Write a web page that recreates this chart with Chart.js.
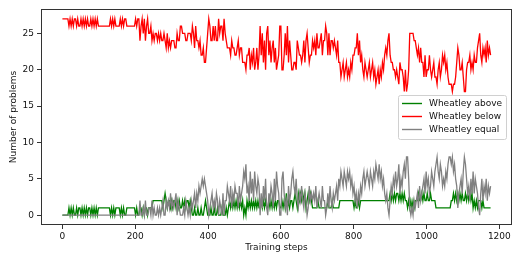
<!DOCTYPE html>
<html>
<head>
<meta charset="utf-8">
<script src="https://cdn.jsdelivr.net/npm/chart.js@4"></script>
<style>
  html, body { margin: 0; padding: 0; background: #fff; }
  #wrap { width: 523px; height: 262px; }
</style>
</head>
<body>
<div id="wrap"><canvas id="c" width="523" height="262"></canvas></div>
<script>
// ---- data (one value every 3 training steps) ----
const STEP = 3;
const seriesNames = ["Wheatley above", "Wheatley below", "Wheatley equal"];
const seriesColors = ["#008000", "#ff0000", "#808080"];
const xTicks = [0, 200, 400, 600, 800, 1000, 1200];
const yTicks = [0, 5, 10, 15, 20, 25];

const above = [
  0,0,0,0,0,0,1,0,1,0,
  1,0,0,1,0,1,1,0,1,0,
  1,0,1,0,1,1,0,1,0,1,
  0,1,0,1,1,1,1,1,1,1,
  1,1,1,1,0,1,0,1,0,1,
  1,1,1,0,1,0,1,0,0,1,
  1,1,1,1,1,1,1,0,1,0,
  0,1,1,0,1,0,1,1,0,1,
  1,1,1,2,2,2,2,2,2,2,
  2,2,1,2,3,2,1,2,2,1,
  2,1,2,2,1,2,1,2,1,1,
  2,1,2,1,2,2,1,2,1,0,
  0,1,0,0,1,0,0,1,0,0,
  1,2,1,0,0,0,1,0,0,1,
  0,0,1,0,0,0,1,0,0,0,
  1,0,1,2,1,2,1,2,1,2,
  1,2,1,2,1,2,0,1,0,2,
  1,2,1,2,1,2,1,2,1,2,
  1,1,2,1,2,1,2,1,1,2,
  1,2,1,2,1,2,1,2,2,1,
  1,2,1,2,1,3,1,2,1,2,
  2,1,2,3,2,1,3,2,3,2,
  3,2,3,1,2,3,2,3,2,1,
  1,1,1,1,2,1,1,1,1,1,
  1,1,1,2,1,1,1,2,1,1,
  1,1,1,1,2,2,2,2,2,2,
  2,2,2,2,2,2,2,1,2,1,
  1,2,1,2,2,2,2,2,2,2,
  2,2,2,2,2,2,2,2,2,2,
  2,2,2,2,2,2,2,2,2,2,
  3,2,3,2,3,2,3,3,2,3,
  2,3,2,3,2,2,1,2,1,2,
  1,2,1,2,2,2,3,2,2,3,
  2,3,2,2,3,2,2,3,2,2,
  2,2,1,1,1,1,1,1,1,1,
  1,1,1,1,1,1,2,2,3,2,
  3,2,3,2,3,2,3,2,2,3,
  2,3,2,3,2,3,1,2,1,2,
  1,2,2,2,1,2,1,1,1,1,
  1,1,1
];
const below = [
  27,27,27,27,27,27,26,27,26,27,
  26,27,27,26,27,26,26,27,26,27,
  26,27,26,27,26,26,27,26,27,26,
  27,26,27,26,26,26,26,26,26,26,
  26,26,26,26,27,26,27,26,27,26,
  26,26,26,27,26,27,26,27,27,26,
  26,26,26,26,26,26,26,27,26,27,
  27,24,26,27,25,27,24,26,27,25,
  25,26,24,25,24,25,25,24,25,24,
  25,24,24,25,24,23,25,23,24,23,
  24,24,24,23,23,25,24,24,26,26,
  25,25,25,24,24,25,25,25,24,26,
  25,23,26,24,24,23,24,22,22,23,
  21,21,23,25,27,26,24,24,26,24,
  26,24,24,27,25,26,26,24,27,25,
  24,23,23,23,22,24,23,23,22,22,
  23,24,22,23,23,21,21,21,20,22,
  22,23,20,22,21,23,20,21,23,20,
  22,26,22,25,21,24,20,25,26,22,
  24,21,23,24,21,23,20,21,22,26,
  26,20,20,22,25,22,26,21,24,22,
  20,20,21,21,20,24,23,22,22,21,
  22,24,21,24,25,23,21,22,22,24,
  23,24,22,25,23,23,24,25,22,24,
  24,26,25,22,25,22,24,24,23,24,
  23,22,24,21,21,19,20,21,19,20,
  21,19,20,19,21,20,22,22,23,23,
  25,22,24,21,22,20,19,21,20,19,
  20,21,19,20,21,19,20,18,19,20,
  18,20,19,21,20,22,23,22,24,25,
  22,21,21,20,20,19,20,19,18,21,
  20,20,19,17,20,17,18,20,25,25,
  25,25,24,24,23,22,23,21,23,21,
  21,19,22,19,20,20,22,20,19,20,
  21,19,19,18,20,21,19,20,22,21,
  22,20,21,19,18,18,18,17,18,18,
  19,21,23,22,20,20,21,19,17,17,
  20,21,21,22,20,21,20,22,21,21,
  23,24,25,22,21,23,22,23,21,24,
  22,23,22
];
const equal = [
  0,0,0,0,0,0,0,0,0,0,
  0,0,0,0,0,0,0,0,0,0,
  0,0,0,0,0,0,0,0,0,0,
  0,0,0,0,0,0,0,0,0,0,
  0,0,0,0,0,0,0,0,0,0,
  0,0,0,0,0,0,0,0,0,0,
  0,0,0,0,0,0,0,0,0,0,
  0,2,0,0,1,0,2,0,0,1,
  1,0,2,0,1,0,0,1,0,1,
  0,1,2,0,0,2,1,2,1,3,
  1,2,1,2,3,0,2,1,0,0,
  0,1,0,2,1,0,1,0,2,1,
  2,3,1,3,2,4,3,4,5,4,
  5,4,3,2,0,1,2,3,1,2,
  1,3,2,0,2,1,0,3,0,2,
  2,4,3,2,4,1,3,2,4,3,
  3,1,4,2,3,4,6,5,7,3,
  4,2,6,3,5,2,6,4,3,5,
  4,0,3,1,4,2,5,1,0,3,
  2,4,3,1,5,2,6,4,3,0,
  0,5,6,3,1,2,0,4,2,3,
  5,6,4,3,5,2,1,3,2,4,
  2,1,3,2,0,1,4,2,3,2,
  3,2,4,1,2,3,2,1,4,2,
  2,0,1,3,1,4,2,1,3,2,
  3,4,2,5,4,6,5,4,6,5,
  4,6,5,6,4,5,3,4,2,3,
  1,3,2,4,3,5,6,4,5,6,
  5,4,6,5,4,6,5,7,6,5,
  7,5,6,4,5,3,2,3,1,0,
  2,4,3,5,4,6,4,5,7,3,
  5,4,6,7,5,8,8,5,1,0,
  1,0,2,1,2,3,1,4,2,3,
  4,5,3,6,4,5,3,4,6,5,
  4,6,7,8,6,5,7,6,4,5,
  4,6,5,7,8,8,7,8,6,7,
  5,4,1,3,4,5,3,6,8,7,
  5,3,4,2,5,3,6,3,5,4,
  3,1,0,3,5,2,4,3,5,2,
  4,3,4
];
const steps = above.map((_, i) => i * STEP);

// ---- chart ----
const FONT = "'DejaVu Sans', sans-serif";
const TEXT = '#111';
const toPts = arr => arr.map((v, i) => ({ x: steps[i], y: v }));
const lastStep = steps[steps.length - 1];

const frame = {
  id: 'frame',
  afterDatasetsDraw(chart) {
    const { ctx, chartArea: a } = chart;
    ctx.save();
    ctx.strokeStyle = '#333';
    ctx.lineWidth = 1;
    ctx.strokeRect(Math.round(a.left) + 0.5, Math.round(a.top) + 0.5,
                   Math.round(a.right - a.left) - 1, Math.round(a.bottom - a.top) - 1);
    ctx.restore();
  }
};

const boxLegend = {
  id: 'boxLegend',
  afterDraw(chart) {
    const { ctx, chartArea: a } = chart;
    const ds = chart.data.datasets;
    ctx.save();
    ctx.font = "9px " + FONT;
    const tw = Math.max(...ds.map(d => ctx.measureText(d.label).width));
    const rowH = 13, padX = 4, lineLen = 20, gap = 7;
    const w = padX + lineLen + gap + tw + 4;
    const h = rowH * ds.length + 5;
    const right = a.right - 6;
    const left = right - w;
    const top = Math.round((a.top + a.bottom) / 2 - h / 2);
    ctx.beginPath();
    if (ctx.roundRect) ctx.roundRect(left + 0.5, top + 0.5, w, h, 2);
    else ctx.rect(left + 0.5, top + 0.5, w, h);
    ctx.fillStyle = 'rgba(255,255,255,0.8)';
    ctx.fill();
    ctx.strokeStyle = '#d0d0d0';
    ctx.lineWidth = 1;
    ctx.stroke();
    ds.forEach((d, i) => {
      const y = top + 8.5 + i * rowH;
      ctx.beginPath();
      ctx.strokeStyle = d.borderColor;
      ctx.lineWidth = 1.4;
      ctx.moveTo(left + padX, y);
      ctx.lineTo(left + padX + lineLen, y);
      ctx.stroke();
      ctx.fillStyle = TEXT;
      ctx.textBaseline = 'middle';
      ctx.textAlign = 'left';
      ctx.fillText(d.label, left + padX + lineLen + gap, y + 0.5);
    });
    ctx.restore();
  }
};

const data = [above, below, equal];
new Chart(document.getElementById('c'), {
  type: 'line',
  data: {
    datasets: data.map((arr, i) => ({
      label: seriesNames[i],
      data: toPts(arr),
      borderColor: seriesColors[i],
      backgroundColor: seriesColors[i],
      borderWidth: 1.3,
      pointRadius: 0,
      tension: 0,
      fill: false,
      order: 3 - i
    }))
  },
  options: {
    responsive: false,
    animation: false,
    events: [],
    layout: { padding: { top: 9, right: 11, left: 0, bottom: 0 } },
    plugins: { legend: { display: false }, tooltip: { enabled: false } },
    scales: {
      x: {
        type: 'linear',
        min: -0.05 * lastStep,
        max: 1.05 * lastStep,
        afterBuildTicks: s => { s.ticks = xTicks.map(v => ({ value: v })); },
        afterFit: s => { s.height = 37; },
        grid: { drawOnChartArea: false, tickLength: 4, tickColor: '#333', tickWidth: 1 },
        border: { display: false },
        ticks: { color: TEXT, font: { family: FONT, size: 9 }, padding: 2, maxRotation: 0,
                 callback: v => String(v) },
        title: { display: true, text: 'Training steps', color: TEXT,
                 font: { family: FONT, size: 9 }, padding: { top: 0, bottom: 9 } }
      },
      y: {
        type: 'linear',
        min: -1.35,
        max: 28.35,
        afterBuildTicks: s => { s.ticks = yTicks.map(v => ({ value: v })); },
        afterFit: s => { s.width = 41; },
        grid: { drawOnChartArea: false, tickLength: 4, tickColor: '#333', tickWidth: 1 },
        border: { display: false },
        ticks: { color: TEXT, font: { family: FONT, size: 9 }, padding: 3,
                 callback: v => String(v) },
        title: { display: true, text: 'Number of problems', color: TEXT,
                 font: { family: FONT, size: 9 }, padding: { top: 8, bottom: 0 } }
      }
    }
  },
  plugins: [frame, boxLegend]
});
</script>
</body>
</html>
